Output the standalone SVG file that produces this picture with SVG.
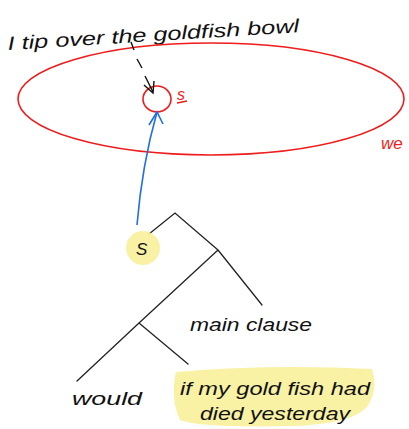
<svg xmlns="http://www.w3.org/2000/svg" width="409" height="429" viewBox="0 0 409 429">
<defs>
<style>
.hand{font-family:"Liberation Sans","DejaVu Sans",sans-serif;font-style:italic;fill:#111}
.red{fill:none;stroke:#ee1c1c;stroke-width:1.6}
.tree{stroke:#222;stroke-width:1.3;fill:none;stroke-linecap:round}
.hl{fill:#f8f09a;opacity:0.9}
</style>
</defs>
<rect width="409" height="429" fill="#fff"/>
<g id="sentence">
<text class="hand" x="8" y="50" font-size="19" textLength="292" lengthAdjust="spacingAndGlyphs" transform="rotate(-3.5 8 50)">I tip over the goldfish bowl</text>
</g>
<g id="we-set">
<ellipse class="red" cx="211" cy="99" rx="193" ry="56"/>
<text x="381" y="149" font-family="Liberation Sans, sans-serif" font-style="italic" font-size="17" fill="#ee1c1c">we</text>
</g>
<g id="s-world">
<ellipse class="red" cx="157" cy="99" rx="14" ry="13"/>
<text x="177" y="100" font-family="Liberation Sans, sans-serif" font-style="italic" font-size="16" fill="#ee1c1c">s</text>
<path d="M177 103 L187 101" class="red"/>
</g>
<g id="connectors">
<path d="M131 42 L134 50 M137 59 L142 68 M145 76 L153 92" stroke="#111" stroke-width="1.4" fill="none"/>
<path d="M144 85 L153 93 L154 81" stroke="#111" stroke-width="1.4" fill="none"/>
<path d="M137 225 Q142 165 157 112" stroke="#1f6fe0" stroke-width="1.6" fill="none"/>
<path d="M149 125 L157 112 L163 124" stroke="#1f6fe0" stroke-width="1.6" fill="none"/>
<path class="tree" d="M149 234 L175 213 L218 250 M218 250 L262 305 M218 250 L139 323 M139 323 L77 381 M139 323 L188 364"/>
</g>
<g id="s-node">
<circle class="hl" cx="143" cy="248" r="17"/>
<text class="hand" x="136" y="255" font-size="17">S</text>
</g>
<g id="main-clause">
<text class="hand" x="190" y="331" font-size="18" textLength="122" lengthAdjust="spacingAndGlyphs">main clause</text>
</g>
<g id="would">
<text class="hand" x="72" y="405" font-size="19" textLength="70" lengthAdjust="spacingAndGlyphs">would</text>
</g>
<g id="if-clause">
<path class="hl" d="M176 372 Q270 364 372 369 Q378 386 370 402 Q360 424 290 426 Q200 428 180 420 Q170 398 176 372 Z"/>
<text class="hand" x="180" y="395" font-size="19" textLength="190" lengthAdjust="spacingAndGlyphs">if my gold fish had</text>
<text class="hand" x="200" y="420" font-size="19" textLength="150" lengthAdjust="spacingAndGlyphs">died yesterday</text>
</g>
</svg>
